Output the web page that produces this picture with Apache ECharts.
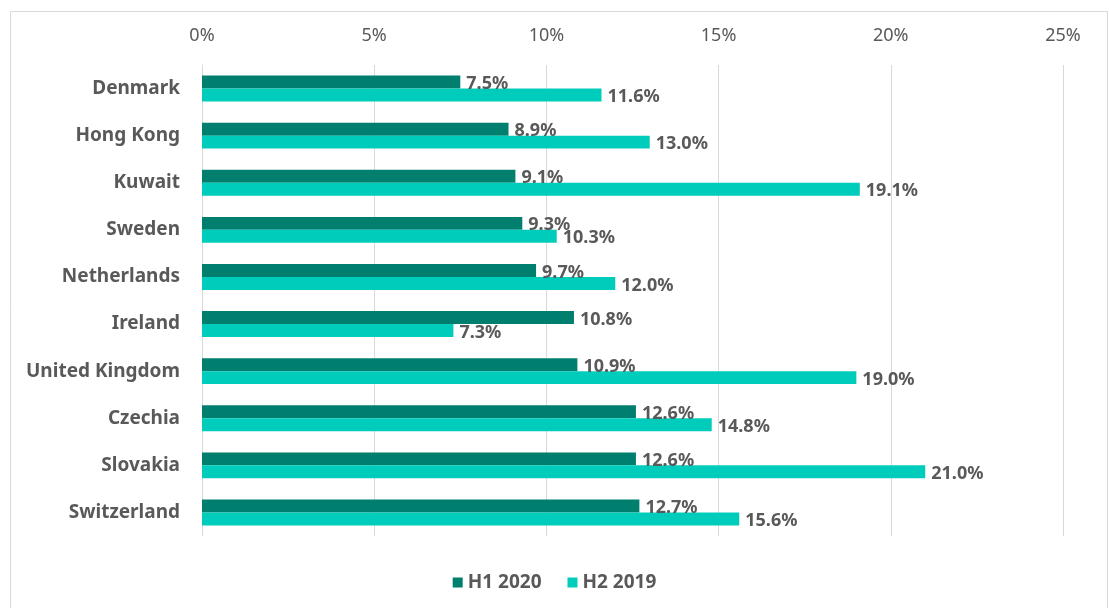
<!DOCTYPE html>
<html>
<head>
<meta charset="utf-8">
<script src="https://cdn.jsdelivr.net/npm/echarts@6/dist/echarts.min.js"></script>
<style>
  html, body { margin: 0; padding: 0; background: #fff; }
  #chart { width: 1109px; height: 608px; }
</style>
</head>
<body>
<div id="chart"></div>
<script>
const countries = ['Denmark', 'Hong Kong', 'Kuwait', 'Sweden', 'Netherlands', 'Ireland', 'United Kingdom', 'Czechia', 'Slovakia', 'Switzerland'];
const h1_2020 = [7.5, 8.9, 9.1, 9.3, 9.7, 10.8, 10.9, 12.6, 12.6, 12.7];
const h2_2019 = [11.6, 13.0, 19.1, 10.3, 12.0, 7.3, 19.0, 14.8, 21.0, 15.6];

const textColor = '#595959';
const font = 'Noto Sans';

let chart = echarts.init(document.getElementById('chart'));

let labelStyle = {
  show: true,
  position: 'right',
  distance: 6,
  offset: [0, 2],
  color: textColor,
  fontFamily: font,
  fontWeight: 'bold',
  fontSize: 18,
  formatter: p => p.value.toFixed(1) + '%'
};

chart.setOption({
  animation: false,
  graphic: [{
    type: 'rect',
    left: 8, top: 9,
    shape: { width: 1097, height: 640 },
    style: { fill: 'none', stroke: '#d9d9d9', lineWidth: 1 },
    silent: true
  }],
  grid: { left: 202, right: 46, top: 65, bottom: 72 },
  legend: {
    bottom: 11,
    left: 'center',
    itemWidth: 10,
    itemHeight: 10,
    itemGap: 26,
    icon: 'rect',
    textStyle: { color: textColor, fontFamily: font, fontWeight: 'bold', fontSize: 19 },
    data: ['H1 2020', 'H2 2019']
  },
  xAxis: {
    type: 'value',
    position: 'top',
    min: 0, max: 25, interval: 5,
    axisLine: { show: false },
    axisTick: { show: false },
    splitLine: { lineStyle: { color: '#d9d9d9' } },
    axisLabel: {
      color: textColor, fontFamily: font, fontSize: 18, margin: 20,
      formatter: v => v + '%'
    }
  },
  yAxis: {
    type: 'category',
    inverse: true,
    data: countries,
    axisLine: { lineStyle: { color: '#d9d9d9' } },
    axisTick: { show: false },
    axisLabel: { color: textColor, fontFamily: font, fontWeight: 'bold', fontSize: 19, margin: 22 }
  },
  series: [
    {
      name: 'H1 2020', type: 'bar', data: h1_2020,
      itemStyle: { color: '#007f6e' },
      barGap: '0%', barCategoryGap: '45%',
      label: labelStyle
    },
    {
      name: 'H2 2019', type: 'bar', data: h2_2019,
      itemStyle: { color: '#00ccbc' },
      label: labelStyle
    }
  ]
});
</script>
</body>
</html>
